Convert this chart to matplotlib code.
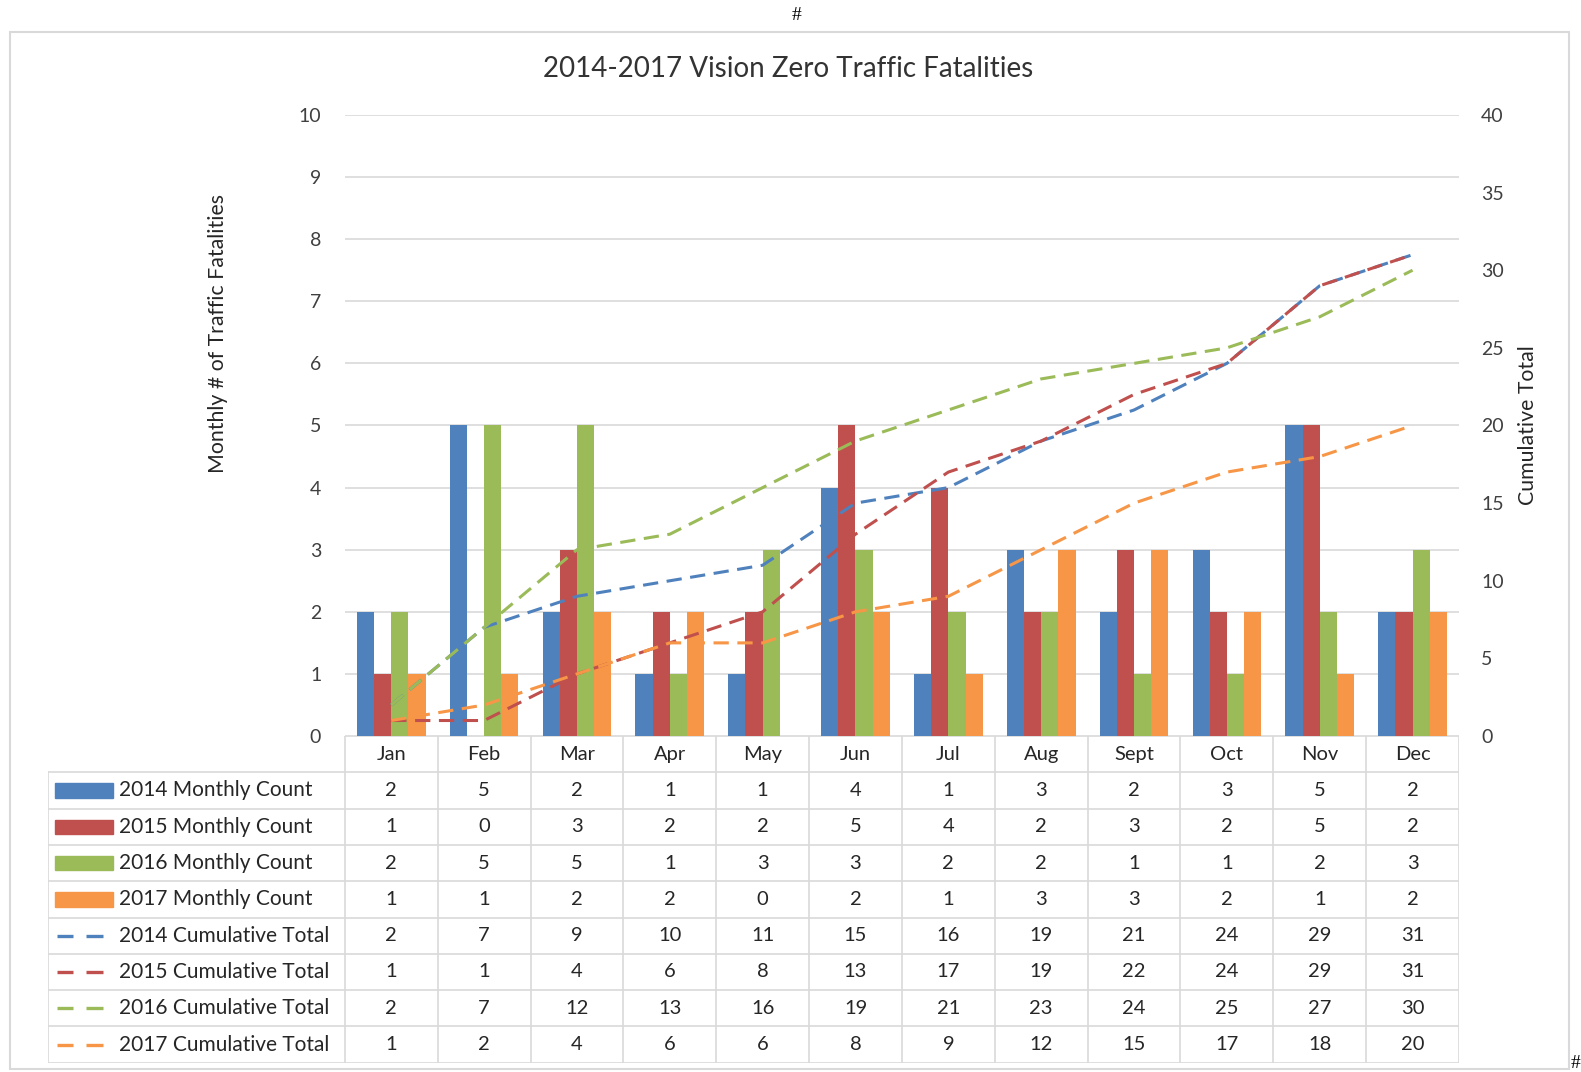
import matplotlib
matplotlib.use("Agg")
import matplotlib.pyplot as plt
from matplotlib.patches import Rectangle
import numpy as np

# ── data ──────────────────────────────────────────────────────────────────────
months = ["Jan", "Feb", "Mar", "Apr", "May", "Jun", "Jul", "Aug", "Sept", "Oct", "Nov", "Dec"]
m2014 = [2, 5, 2, 1, 1, 4, 1, 3, 2, 3, 5, 2]
m2015 = [1, 0, 3, 2, 2, 5, 4, 2, 3, 2, 5, 2]
m2016 = [2, 5, 5, 1, 3, 3, 2, 2, 1, 1, 2, 3]
m2017 = [1, 1, 2, 2, 0, 2, 1, 3, 3, 2, 1, 2]
c2014 = [2, 7, 9, 10, 11, 15, 16, 19, 21, 24, 29, 31]
c2015 = [1, 1, 4, 6, 8, 13, 17, 19, 22, 24, 29, 31]
c2016 = [2, 7, 12, 13, 16, 19, 21, 23, 24, 25, 27, 30]
c2017 = [1, 2, 4, 6, 6, 8, 9, 12, 15, 17, 18, 20]

bar_labels = ["2014 Monthly Count", "2015 Monthly Count", "2016 Monthly Count", "2017 Monthly Count"]
line_labels = ["2014 Cumulative Total", "2015 Cumulative Total", "2016 Cumulative Total", "2017 Cumulative Total"]
colors = ["#4f81bd", "#c0504d", "#9bbb59", "#f79646"]

plt.rcParams["font.family"] = ["Lato", "DejaVu Sans"]
W, H = 1581, 1072
S = 1581 / 1568          # layout measured on the shrunk preview
TXT = "#404040"
DARK = "#262626"
GRID = "#d9d9d9"

fig = plt.figure(figsize=(W / 100, H / 100), dpi=100)

def fx(p):
    return p * S / W

def fy(p):
    return 1 - p * S / H

def fbox(x0, y0, x1, y1):
    return [fx(x0), fy(y1), fx(x1) - fx(x0), fy(y0) - fy(y1)]

# outer chart frame
fig.patches.append(Rectangle((fx(10), fy(1060)), fx(1556) - fx(10), fy(32) - fy(1060),
                             transform=fig.transFigure, fill=False, edgecolor=GRID, lw=1.5))
fig.text(fx(790), fy(15), "#", ha="center", va="center", fontsize=14, family="Liberation Serif")
fig.text(fx(1563), fy(1055), "#", ha="center", va="center", fontsize=14, family="Liberation Serif")

fig.text(fx(782), fy(68), "2014-2017 Vision Zero Traffic Fatalities", ha="center", va="center",
         fontsize=20, color="#333333")

# ── main plot ────────────────────────────────────────────────────────────────
L, R, T, B = 342, 1447, 114, 730
ax = fig.add_axes(fbox(L, T, R, B))
x = np.arange(len(months))
bw = 0.185
for k, (vals, c) in enumerate(zip([m2014, m2015, m2016, m2017], colors)):
    ax.bar(x + (k - 1.5) * bw, vals, width=bw, color=c, zorder=2)
ax.set_xlim(-0.5, 11.5)
ax.set_ylim(0, 10)
ax.set_yticks(range(0, 11))
ax.yaxis.grid(True, color=GRID, lw=1.2, zorder=0)
ax.set_axisbelow(True)
ax.set_xticks([])
for s in ["top", "right", "left", "bottom"]:
    ax.spines[s].set_visible(False)
ax.tick_params(axis="y", length=0, pad=17, labelsize=14, labelcolor=TXT)
fig.text(fx(216), fy(331), "Monthly # of Traffic Fatalities", rotation=90, ha="center", va="center",
         fontsize=15.3, color=DARK)

ax2 = ax.twinx()
for vals, c in zip([c2014, c2015, c2016, c2017], colors):
    ax2.plot(x, vals, color=c, lw=2.2, linestyle=(0, (5, 2.8)), zorder=3)
ax2.set_ylim(0, 40)
ax2.set_yticks(range(0, 41, 5))
for s in ["top", "right", "left", "bottom"]:
    ax2.spines[s].set_visible(False)
ax2.tick_params(axis="y", length=0, pad=16, labelsize=14, labelcolor=TXT)
fig.text(fx(1515), fy(422), "Cumulative Total", rotation=90, ha="center", va="center",
         fontsize=15.3, color=DARK)

# ── data table ───────────────────────────────────────────────────────────────
TL, TB = 48, 1054
colw = (R - L) / 12
xl = -0.5 - (L - TL) / colw
tax = fig.add_axes(fbox(TL, B, R, TB))
tax.set_xlim(xl, 11.5)
tax.set_ylim(9, 0)
tax.axis("off")

def px(p):
    return -0.5 + (p - L) / colw

tax.plot([-0.5, 11.5], [0, 0], color=GRID, lw=1.2)
for r in range(1, 10):
    tax.plot([xl, 11.5], [r, r], color=GRID, lw=1.2)
for k in range(13):
    tax.plot([-0.5 + k, -0.5 + k], [0, 9], color=GRID, lw=1.2)
tax.plot([xl, xl], [1, 9], color=GRID, lw=1.2)

for i, m in enumerate(months):
    tax.text(i, 0.5, m, ha="center", va="center", fontsize=14.5, color=DARK)

rows = [m2014, m2015, m2016, m2017, c2014, c2015, c2016, c2017]
for r, vals in enumerate(rows):
    for i, v in enumerate(vals):
        tax.text(i, r + 1.5, str(v), ha="center", va="center", fontsize=14.5, color=DARK)

for r, (lab, c) in enumerate(zip(bar_labels, colors)):
    tax.add_patch(Rectangle((px(55), r + 1.5 - 0.2), px(112) - px(55), 0.4, color=c))
    tax.text(px(118), r + 1.5, lab, ha="left", va="center", fontsize=15, color=DARK)
for r, (lab, c) in enumerate(zip(line_labels, colors)):
    y = r + 5.5
    tax.plot([px(57), px(72)], [y, y], color=c, lw=2.4, solid_capstyle="butt")
    tax.plot([px(85), px(102)], [y, y], color=c, lw=2.4, solid_capstyle="butt")
    tax.text(px(118), y, lab, ha="left", va="center", fontsize=15, color=DARK)

fig.savefig("out.png", dpi=100)
